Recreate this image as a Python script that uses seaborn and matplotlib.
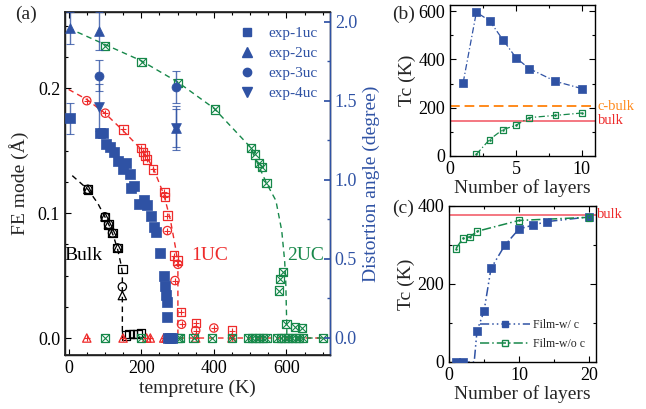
import numpy as np
import pandas as pd
import matplotlib
matplotlib.use("Agg")
import matplotlib.pyplot as plt
import seaborn as sns
from matplotlib.ticker import MultipleLocator
from matplotlib.lines import Line2D

sns.set_theme(style="ticks")
plt.rcParams["font.family"] = ["Liberation Serif", "DejaVu Serif"]
plt.rcParams["mathtext.fontset"] = "stix"

BLUE = "#2F52A4"
RED = "#EE2B2B"
GREEN = "#17884A"
ORANGE = "#FF8A1C"
PINK = "#F2606C"

# ---------------- panel (a): FE mode (left) ----------------
bulk_T = [53, 100, 110, 121, 135, 148]
bulk_sq = [0.119, 0.097, 0.091, 0.084, 0.072, 0.055]
bulk_ci = [0.119, 0.097, 0.091, 0.084, 0.072, 0.041]
bulk_tri = [0.119, 0.097, 0.091, 0.084, 0.072, 0.034]
bulk_zero_T = [158, 168, 178, 190, 200]
bulk_zero_v = [0.002, 0.003, 0.003, 0.003, 0.004]
bulk_fit_T = [10, 53, 80, 100, 112, 123, 135, 145, 148, 148, 200]
bulk_fit_v = [0.130, 0.119, 0.108, 0.097, 0.090, 0.082, 0.071, 0.058, 0.052, 0.0, 0.0]

uc1_sq_T = [151, 200, 205, 210, 215, 232, 264, 265, 272, 290, 300, 310, 350, 450]
uc1_sq_v = [0.167, 0.152, 0.149, 0.146, 0.143, 0.135, 0.117, 0.113, 0.098,
            0.066, 0.062, 0.021, 0.012, 0.006]
uc1_ci_T = [50, 101, 272, 293, 301, 311, 350, 400]
uc1_ci_v = [0.190, 0.180, 0.086, 0.046, 0.059, 0.011, 0.006, 0.008]
uc1_tri_T = [50, 150, 215, 225, 262, 268, 350, 450]
uc1_tri_v = [0, 0, 0, 0, 0, 0, 0, 0]
uc1_fit_T = [0, 50, 100, 150, 200, 232, 262, 280, 294, 301, 301, 700]
uc1_fit_v = [0.199, 0.191, 0.180, 0.166, 0.151, 0.137, 0.115, 0.095, 0.073, 0.060, 0.0, 0.0]

uc2_T = [101, 201, 302, 403, 503, 514, 524, 533, 545, 580, 582, 590, 600, 623, 643]
uc2_v = [0.234, 0.221, 0.204, 0.183, 0.152, 0.147, 0.140, 0.137, 0.124,
         0.038, 0.047, 0.053, 0.011, 0.009, 0.008]
uc2_zero_T = [100, 200, 282, 300, 307, 344, 395, 450, 495, 505, 515, 525, 535, 545,
              575, 585, 595, 605, 615, 625, 635, 645, 700]
uc2_fit_T = [0, 100, 200, 300, 400, 500, 545, 571, 587, 595, 598, 601, 601, 700]
uc2_fit_v = [0.248, 0.235, 0.222, 0.205, 0.184, 0.153, 0.124, 0.110, 0.086, 0.062,
             0.046, 0.009, 0.0, 0.0]

# ---------------- panel (a): distortion angle (right) ----------------
exp1_T = [87, 95, 103, 115, 126, 137, 151, 159, 168, 173, 179, 193, 207, 215, 227,
          235, 241, 252, 263, 265, 268, 271, 272, 274, 280, 286]
exp1_a = [1.30, 1.30, 1.23, 1.21, 1.18, 1.12, 1.07, 1.11, 1.04, 0.95, 0.96, 0.85,
          0.87, 0.84, 0.77, 0.70, 0.67, 0.54, 0.39, 0.33, 0.27, 0.23, 0.13, 0.0, 0.0, 0.0]
exp1e_T = [5]
exp1e_a = [1.39]
exp1e_err = [0.10]
exp2_T = [3, 84, 297]
exp2_a = [1.96, 1.94, 1.33]
exp2_err = [0.10, 0.12, 0.12]
exp3_T = [84, 297]
exp3_a = [1.66, 1.59]
exp3_err = [0.10, 0.10]
exp4_T = [84, 297]
exp4_a = [1.46, 1.33]
exp4_err = [0.15, 0.14]

# ---------------- panel (b) ----------------
b_layers = [1, 2, 3, 4, 5, 6, 8, 10]
b_tc_w = [304, 595, 560, 482, 407, 362, 309, 279]
b_layers_wo = [2, 3, 4, 5, 6, 8, 10]
b_tc_wo = [7, 68, 109, 127, 159, 168, 178]
b_cbulk = 205
b_bulk = 145

# ---------------- panel (c) ----------------
c_layers_w = [1, 2, 4, 5, 6, 8, 10, 12, 14, 20]
c_tc_w = [0, 0, 80, 130, 240, 300, 341, 351, 360, 372]
c_line_w_x = [1, 2, 3.6, 4, 5, 6, 8, 10, 12, 14, 20]
c_line_w_y = [0, 0, 0, 80, 130, 240, 300, 341, 351, 360, 372]
c_layers_wo = [1, 2, 3, 4, 10, 20]
c_tc_wo = [291, 317, 321, 335, 363, 371]
c_bulk = 378

fig = plt.figure(figsize=(6.46, 4.09), dpi=100)
W, H = 646, 409


def box(l, t, r, b):
    return [l / W, 1 - b / H, (r - l) / W, (b - t) / H]


def style(ax, right=True):
    ax.tick_params(which="both", direction="in", top=True, right=right,
                   labelsize=13, colors="black")
    ax.tick_params(which="major", length=4, width=0.8)
    ax.tick_params(which="minor", length=2.2, width=0.8)
    for s in ax.spines.values():
        s.set_linewidth(1.0)
        s.set_color("black")


def scat(ax, x, y, color, marker, s=36, filled=False, lw=0.9, z=3):
    if filled:
        sns.scatterplot(x=x, y=y, ax=ax, marker=marker, s=s, color=color,
                        edgecolor=color, linewidth=0.5, zorder=z, legend=False)
    else:
        sns.scatterplot(x=x, y=y, ax=ax, marker=marker, s=s, facecolors="none",
                        edgecolor=color, linewidth=lw, zorder=z, legend=False)


def cross(ax, x, y, color, kind, s=36, z=4):
    # line-type markers take their colour from the edge
    sns.scatterplot(x=x, y=y, ax=ax, marker=kind, s=s * 0.7, color=color,
                    edgecolor=color, linewidth=0.8, zorder=z, legend=False)


def curve(ax, x, y, color, ls, lw=1.0, z=2):
    sns.lineplot(x=x, y=y, ax=ax, color=color, linestyle=ls, linewidth=lw,
                 sort=False, estimator=None, zorder=z, legend=False)


# ================= (a) =================
ax = fig.add_axes(box(65, 12, 330, 355))
dash = (0, (4, 3))
curve(ax, bulk_fit_T, bulk_fit_v, "black", dash)
curve(ax, uc1_fit_T, uc1_fit_v, RED, dash)
curve(ax, uc2_fit_T, uc2_fit_v, GREEN, dash)

scat(ax, bulk_T, bulk_sq, "black", "s")
scat(ax, bulk_T, bulk_ci, "black", "o")
scat(ax, bulk_T, bulk_tri, "black", "^")
scat(ax, bulk_zero_T, bulk_zero_v, "black", "s")

scat(ax, uc1_sq_T, uc1_sq_v, RED, "s")
cross(ax, uc1_sq_T, uc1_sq_v, RED, "+")
scat(ax, uc1_ci_T, uc1_ci_v, RED, "o")
cross(ax, uc1_ci_T, uc1_ci_v, RED, "+")
scat(ax, uc1_tri_T, uc1_tri_v, RED, "^")
cross(ax, uc1_tri_T, uc1_tri_v, RED, "+")

scat(ax, uc2_T, uc2_v, GREEN, "s")
cross(ax, uc2_T, uc2_v, GREEN, "x")
scat(ax, uc2_zero_T, [0] * len(uc2_zero_T), GREEN, "s")
cross(ax, uc2_zero_T, [0] * len(uc2_zero_T), GREEN, "x")

ax.set_xlim(-10, 720)
ax.set_ylim(-0.0136, 0.261)
ax.xaxis.set_major_locator(MultipleLocator(200))
ax.xaxis.set_minor_locator(MultipleLocator(50))
ax.yaxis.set_major_locator(MultipleLocator(0.1))
ax.yaxis.set_minor_locator(MultipleLocator(0.025))
ax.set_xticks([0, 200, 400, 600])
ax.set_yticks([0.0, 0.1, 0.2])
ax.set_yticklabels(["0.0", "0.1", "0.2"])
style(ax, right=False)
ax.set_xlabel("tempreture (K)", fontsize=14, labelpad=2)
ax.set_ylabel("FE mode (Å)", fontsize=14, labelpad=6)
ax.text(-11, 0.066, "Bulk", color="black", fontsize=14, va="center")
ax.text(338, 0.066, "1UC", color=RED, fontsize=14, va="center")
ax.text(601, 0.066, "2UC", color=GREEN, fontsize=14, va="center")

ax2 = ax.twinx()
ax2.set_position(box(65, 12, 330, 355))
for T, a, e in [(exp1e_T, exp1e_a, exp1e_err), (exp2_T, exp2_a, exp2_err),
                (exp3_T, exp3_a, exp3_err), (exp4_T, exp4_a, exp4_err)]:
    ax2.errorbar(T, a, yerr=e, fmt="none", ecolor=BLUE, elinewidth=1.0,
                 capsize=3, capthick=0.8, alpha=0.8, zorder=3)
scat(ax2, exp1_T, exp1_a, BLUE, "s", s=42, filled=True)
scat(ax2, exp1e_T, exp1e_a, BLUE, "s", s=42, filled=True)
scat(ax2, exp2_T, exp2_a, BLUE, "^", s=50, filled=True)
scat(ax2, exp3_T, exp3_a, BLUE, "o", s=42, filled=True)
scat(ax2, exp4_T, exp4_a, BLUE, "v", s=50, filled=True)
ax2.set_ylim(-0.108, 2.063)
ax2.yaxis.set_major_locator(MultipleLocator(0.5))
ax2.yaxis.set_minor_locator(MultipleLocator(0.25))
ax2.set_yticks([0.0, 0.5, 1.0, 1.5, 2.0])
ax2.set_yticklabels(["0.0", "0.5", "1.0", "1.5", "2.0"])
ax2.tick_params(which="both", direction="in", labelsize=13, colors=BLUE, right=True)
ax2.tick_params(which="major", length=4)
ax2.tick_params(which="minor", length=2.2)
ax2.spines["right"].set_color(BLUE)
ax2.spines["right"].set_linewidth(1.0)
ax2.set_ylabel("Distortion angle (degree)", color=BLUE, fontsize=14, labelpad=4)

handles = [Line2D([], [], ls="none", marker=m, color=BLUE, markersize=ms)
           for m, ms in [("s", 6), ("^", 7), ("o", 6), ("v", 7)]]
leg = ax2.legend(handles, ["exp-1uc", "exp-2uc", "exp-3uc", "exp-4uc"],
                 loc="upper left", bbox_to_anchor=(0.60, 0.997), frameon=False,
                 fontsize=11, handlelength=1.2, handletextpad=0.8, labelspacing=0.4)
for t in leg.get_texts():
    t.set_color(BLUE)

fig.text(15 / W, 1 - 14 / H, "(a)", fontsize=14, va="center")

# ================= (b) =================
axb = fig.add_axes(box(450, 5, 595, 156))
axb.axhline(b_cbulk, color=ORANGE, ls=(0, (5, 2.5)), lw=1.4, zorder=1)
axb.axhline(b_bulk, color=PINK, ls="-", lw=1.2, zorder=1)
curve(axb, b_layers, b_tc_w, BLUE, (0, (5, 2, 1, 2)), lw=0.9)
scat(axb, b_layers, b_tc_w, BLUE, "s", s=36, filled=True)
curve(axb, b_layers_wo, b_tc_wo, GREEN, (0, (5, 2, 1, 2)), lw=0.9)
scat(axb, b_layers_wo, b_tc_wo, GREEN, "s", s=18)
cross(axb, b_layers_wo, b_tc_wo, GREEN, ".", s=6)
axb.set_xlim(0, 11)
axb.set_ylim(0, 625)
axb.xaxis.set_major_locator(MultipleLocator(5))
axb.xaxis.set_minor_locator(MultipleLocator(2.5))
axb.yaxis.set_major_locator(MultipleLocator(200))
axb.yaxis.set_minor_locator(MultipleLocator(100))
style(axb)
axb.set_xlabel("Number of layers", fontsize=14, labelpad=1)
axb.set_ylabel("Tc (K)", fontsize=14, labelpad=2)
axb.text(11.2, b_cbulk, "c-bulk", color=ORANGE, fontsize=10.5, va="center", clip_on=False)
axb.text(11.2, b_bulk, "bulk", color=RED, fontsize=10.5, va="center", clip_on=False)
fig.text(392 / W, 1 - 14 / H, "(b)", fontsize=14, va="center")

# ================= (c) =================
axc = fig.add_axes(box(449, 206, 596, 362))
axc.axhline(c_bulk, color=PINK, ls="-", lw=1.2, zorder=1)
curve(axc, c_line_w_x, c_line_w_y, BLUE, (0, (6, 2, 1, 2, 1, 2)), lw=1.1)
scat(axc, c_layers_w, c_tc_w, BLUE, "s", s=36, filled=True)
curve(axc, c_layers_wo, c_tc_wo, GREEN, (0, (6, 2, 1, 2)), lw=1.1)
scat(axc, c_layers_wo, c_tc_wo, GREEN, "s", s=22)
cross(axc, c_layers_wo, c_tc_wo, GREEN, ".", s=6)
axc.set_xlim(0, 21)
axc.set_ylim(0, 400)
axc.xaxis.set_major_locator(MultipleLocator(10))
axc.xaxis.set_minor_locator(MultipleLocator(5))
axc.yaxis.set_major_locator(MultipleLocator(200))
axc.yaxis.set_minor_locator(MultipleLocator(100))
style(axc)
axc.set_xlabel("Number of layers", fontsize=14, labelpad=1)
axc.set_ylabel("Tc (K)", fontsize=14, labelpad=2)
axc.text(21.1, c_bulk, "bulk", color=RED, fontsize=10.5, va="center", clip_on=False)
hc = [Line2D([], [], color=BLUE, ls=(0, (6, 2, 1, 2, 1, 2)), marker="s", markersize=5, lw=1.1),
      Line2D([], [], color=GREEN, ls=(0, (6, 2, 1, 2)), marker="s", markersize=5,
             markerfacecolor="none", lw=1.1)]
legc = axc.legend(hc, ["Film-w/ c", "Film-w/o c"], loc="lower right",
                  bbox_to_anchor=(1.0, 0.01), frameon=False, fontsize=8.5,
                  handlelength=4.2, handletextpad=0.3, labelspacing=0.6)
fig.text(392 / W, 1 - 208 / H, "(c)", fontsize=14, va="center")

fig.savefig("out.png", dpi=100)
